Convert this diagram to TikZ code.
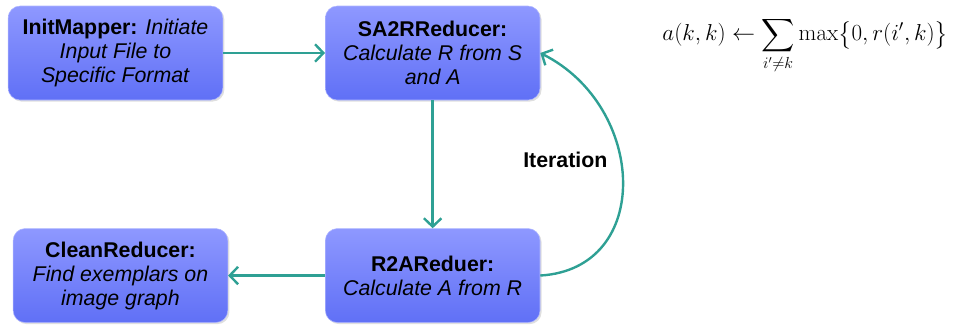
\documentclass[tikz,border=0pt]{standalone}
\usepackage{amsmath}
\usepackage[no-math]{fontspec}
\setmainfont{Liberation Sans}
\usepackage{tikz}
\usetikzlibrary{arrows.meta,positioning,shadows}
\definecolor{jobTop}{RGB}{142,152,255}
\definecolor{jobBottom}{RGB}{96,112,246}
\definecolor{flowTeal}{RGB}{46,160,148}
\tikzset{
  mr/job/.style={rounded corners=9pt, top color=jobTop, bottom color=jobBottom, draw=jobTop!70!white, line width=0.4pt,
    minimum width=161pt, minimum height=70.5pt, align=center, inner sep=2pt, font=\fontsize{16}{18}\selectfont,
    drop shadow={opacity=0.25, shadow xshift=1.2pt, shadow yshift=-1.2pt}},
  mr/flow/.style={draw=flowTeal, line width=1.8pt, -{Straight Barb[length=2.2mm,width=4.6mm]}},
  mr/label/.style={font=\bfseries\fontsize{16}{18}\selectfont},
  mr/formula/.style={font=\fontsize{17}{20}\selectfont, inner sep=0pt}
}

\begin{document}
\begin{tikzpicture}[node distance=96pt and 76.5pt]
  \useasboundingbox (0,0) rectangle (714.75pt,-243.75pt);
  % map-reduce jobs
  \node[mr/job] (init) at (86.6pt,-39.75pt) {\textbf{InitMapper:} \textit{Initiate}\\ \textit{Input File to}\\ \textit{Specific Format}};
  \node[mr/job, right=of init] (sa2r) {\textbf{SA2RReducer:}\\ \textit{Calculate R from S}\\ \textit{and A}};
  \node[mr/job, below=of sa2r] (r2a) {\textbf{R2AReduer:}\\ \textit{Calculate A from R}};
  \node[mr/job, left=72.75pt of r2a] (clean) {\textbf{CleanReducer:}\\ \textit{Find exemplars on}\\ \textit{image graph}};
  \node[mr/label] (iter) at (424pt,-120pt) {Iteration};
  \node[mr/formula] (update) at (604pt,-34pt) {$\displaystyle a(k,k)\leftarrow\sum_{i'\neq k}\max\bigl\{0,r(i',k)\bigr\}$};
  % data flow
  \draw[mr/flow] (init) -- (sa2r);
  \draw[mr/flow] (sa2r) -- (r2a);
  \draw[mr/flow] (r2a) -- (clean);
  \draw[mr/flow] (r2a.east) .. controls +(85pt,5pt) and +(80pt,-40pt) .. (sa2r.east);
\end{tikzpicture}
\end{document}
